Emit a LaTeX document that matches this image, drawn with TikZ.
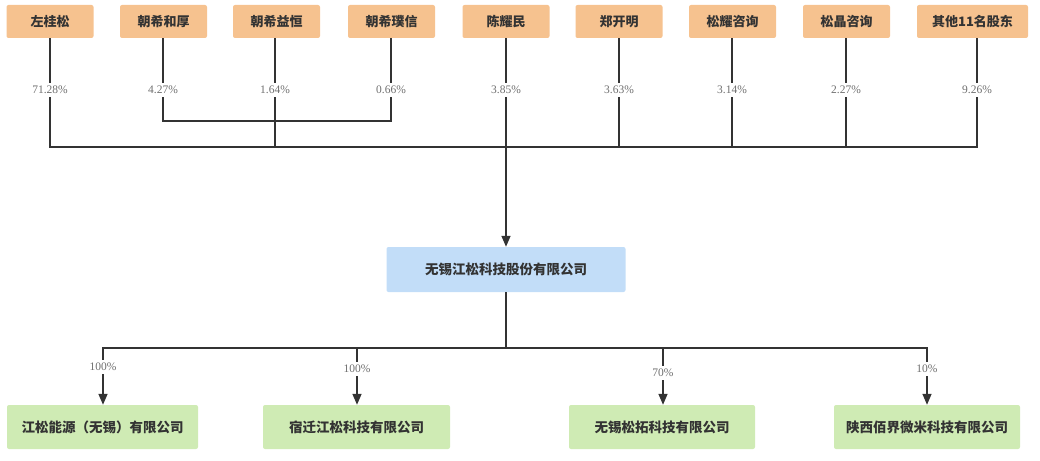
\documentclass[tikz,border=0pt]{standalone}
\usepackage{fontspec}
\setmainfont{Liberation Serif}
\newfontfamily\cjk{Noto Sans CJK SC}
\usetikzlibrary{arrows.meta}
\definecolor{holderorange}{HTML}{F6C28F}
\definecolor{parentblue}{HTML}{C2DDF8}
\definecolor{subgreen}{HTML}{CFEBB4}
\definecolor{ink}{HTML}{333333}
\definecolor{pctgray}{HTML}{6E6E6E}

\begin{document}
\begin{tikzpicture}[x=1pt,y=-1pt,holder/.style={fill=holderorange, rounded corners=2pt, minimum width=87pt, minimum height=33pt, inner sep=0pt, font=\cjk\bfseries\fontsize{13}{15}\selectfont, text=ink},parent/.style={holder, fill=parentblue, minimum width=239pt, minimum height=45pt, font=\cjk\bfseries\fontsize{13.5}{16}\selectfont},subsidiary/.style={holder, fill=subgreen, minimum width=187pt, minimum height=44pt, font=\cjk\bfseries\fontsize{13.5}{16}\selectfont},pct/.style={inner sep=3pt, font=\fontsize{11.5}{13}\selectfont, text=pctgray},link/.style={draw=ink, line width=1.5pt},arrowlink/.style={link, -{Triangle[width=9pt,length=11pt]}}]
\useasboundingbox (0,0) rectangle (1040,460);
\node[holder] (zgs) at (50,21.5) {左桂松};
\node[holder] (zxhh) at (163.5,21.5) {朝希和厚};
\node[holder] (zxyh) at (276.5,21.5) {朝希益恒};
\node[holder] (zxpx) at (391.5,21.5) {朝希璞信};
\node[holder] (cym) at (506,21.5) {陈耀民};
\node[holder] (zkm) at (619,21.5) {郑开明};
\node[holder] (syzx) at (732.5,21.5) {松耀咨询};
\node[holder] (sjzx) at (846.5,21.5) {松晶咨询};
\node[holder, minimum width=111pt] (others) at (972.5,21.5) {其他11名股东};
\node[pct] (p1) at (50,90) {71.28\%};
\node[pct] (p2) at (163,90) {4.27\%};
\node[pct] (p3) at (275,90) {1.64\%};
\node[pct] (p4) at (391,90) {0.66\%};
\node[pct] (p5) at (506,90) {3.85\%};
\node[pct] (p6) at (619,90) {3.63\%};
\node[pct] (p7) at (732,90) {3.14\%};
\node[pct] (p8) at (846,90) {2.27\%};
\node[pct] (p9) at (977,90) {9.26\%};
\coordinate (bus) at (0,147);
\coordinate (zxbus) at (0,121);
\draw[link] (zgs.south) -- (p1.north);
\draw[link] (p2 |- zxhh.south) -- (p2.north);
\draw[link] (p3 |- zxyh.south) -- (p3.north);
\draw[link] (p4 |- zxpx.south) -- (p4.north);
\draw[link] (cym.south) -- (p5.north);
\draw[link] (zkm.south) -- (p6.north);
\draw[link] (p7 |- syzx.south) -- (p7.north);
\draw[link] (p8 |- sjzx.south) -- (p8.north);
\draw[link] (p9 |- others.south) -- (p9.north);
\draw[link] (p2.south) -- (p2 |- zxbus) -- (p4 |- zxbus) -- (p4.south);
\draw[link] (p1.south) -- (p1 |- bus) -- (p9 |- bus) -- (p9.south);
\draw[link] (p3.south) -- (p3 |- bus);
\draw[link] (p6.south) -- (p6 |- bus);
\draw[link] (p7.south) -- (p7 |- bus);
\draw[link] (p8.south) -- (p8 |- bus);
\node[parent] (jiangsong) at (506,269.5) {无锡江松科技股份有限公司};
\draw[arrowlink] (p5.south) -- (jiangsong.north);
\node[subsidiary, minimum width=191pt] (nengyuan) at (102.5,427) {江松能源（无锡）有限公司};
\node[subsidiary] (suqian) at (356.5,427) {宿迁江松科技有限公司};
\node[subsidiary, minimum width=186pt] (songtuo) at (662,427) {无锡松拓科技有限公司};
\node[subsidiary, minimum width=186pt] (baijie) at (927,427) {陕西佰界微米科技有限公司};
\node[pct] (c1) at (103,367) {100\%};
\node[pct] (c2) at (357,369) {100\%};
\node[pct] (c3) at (663,373) {70\%};
\node[pct] (c4) at (927,369) {10\%};
\coordinate (subbus) at (0,348);
\draw[link] (jiangsong.south) -- (jiangsong.south |- subbus);
\draw[link] (c1.north) -- (c1 |- subbus) -- (c4 |- subbus) -- (c4.north);
\draw[link] (c2.north) -- (c2 |- subbus);
\draw[link] (c3.north) -- (c3 |- subbus);
\draw[arrowlink] (c1.south) -- (c1 |- nengyuan.north);
\draw[arrowlink] (c2.south) -- (c2 |- suqian.north);
\draw[arrowlink] (c3.south) -- (c3 |- songtuo.north);
\draw[arrowlink] (c4.south) -- (c4 |- baijie.north);
\end{tikzpicture}
\end{document}
